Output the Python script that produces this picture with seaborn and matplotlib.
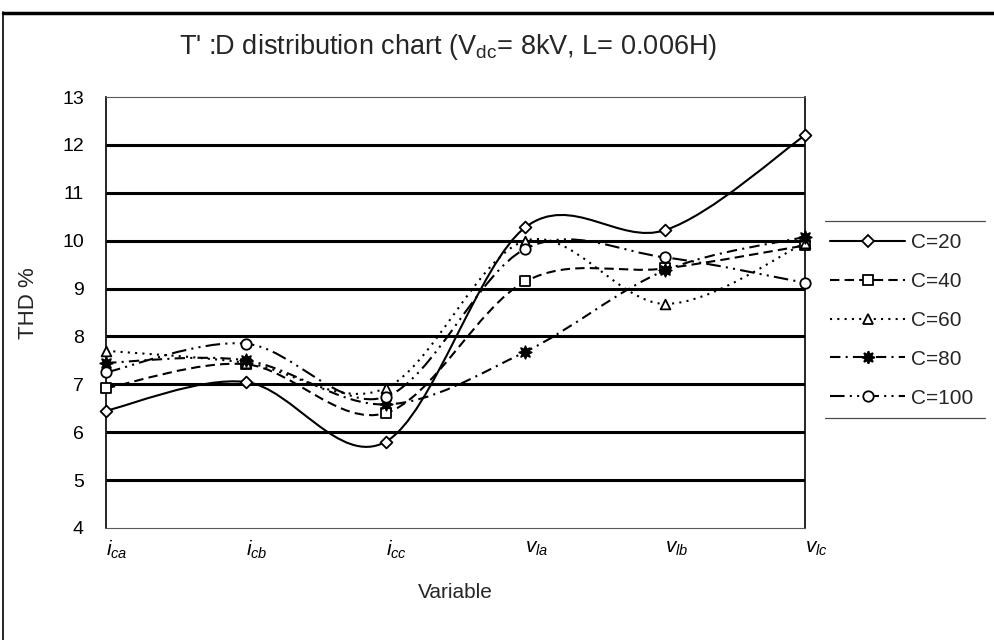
import numpy as np
import matplotlib
matplotlib.use('Agg')
import matplotlib.pyplot as plt
import seaborn as sns
from matplotlib.path import Path
from matplotlib.patches import PathPatch
from matplotlib.lines import Line2D
import matplotlib.transforms as mtransforms

# ---- data ----
categories = [r'$i_{ca}$', r'$i_{cb}$', r'$i_{cc}$', r'$v_{la}$', r'$v_{lb}$', r'$v_{lc}$']
series_names = ['C=20', 'C=40', 'C=60', 'C=80', 'C=100']
c20 = [6.45, 7.05, 5.80, 10.28, 10.22, 12.20]
c40 = [6.92, 7.42, 6.40, 9.15, 9.42, 9.90]
c60 = [7.70, 7.45, 6.92, 10.00, 8.68, 9.95]
c80 = [7.45, 7.50, 6.58, 7.68, 9.38, 10.08]
c100 = [7.25, 7.85, 6.74, 9.83, 9.65, 9.12]
y_ticks = [4, 5, 6, 7, 8, 9, 10, 11, 12, 13]
title = "T' :D distribution chart (V$_{\\mathrm{dc}}$= 8kV, L= 0.006H)"

series_values = [c20, c40, c60, c80, c100]

# ---- style ----
sns.set_theme(style='white')
plt.rcParams['font.family'] = ['Liberation Sans', 'DejaVu Sans']
plt.rcParams['mathtext.fontset'] = 'custom'
plt.rcParams['mathtext.rm'] = 'Liberation Sans'
plt.rcParams['mathtext.it'] = 'Liberation Sans:italic'
plt.rcParams['mathtext.bf'] = 'Liberation Sans:bold'

line_styles = ['-', (0, (4.5, 2.5)), (0, (1, 2.5)), (0, (5, 2.5, 1, 2.5)), (0, (7, 2.5, 1, 2.5, 1, 2.5))]
markers = ['D', 's', '^', (8, 1, 0), 'o']
marker_sizes = [6, 7, 7, 9, 7.5]
faces = ['white', 'white', 'white', 'black', 'white']

W, H = 994, 640
fig = plt.figure(figsize=(W / 100, H / 100), dpi=100)
ax = fig.add_axes([106 / W, 1 - 528 / H, (805 - 106) / W, (528 - 97) / H])

x = np.arange(len(categories))


def smooth_path(xs, ys):
    pts = np.column_stack([xs, ys]).astype(float)
    n = len(pts)
    verts = [pts[0]]
    codes = [Path.MOVETO]
    for i in range(n - 1):
        p0 = pts[i - 1] if i > 0 else pts[i]
        p1 = pts[i]
        p2 = pts[i + 1]
        p3 = pts[i + 2] if i + 2 < n else pts[i + 1]
        c1 = p1 + (p2 - p0) / 6.0
        c2 = p2 - (p3 - p1) / 6.0
        verts += [c1, c2, p2]
        codes += [Path.CURVE4] * 3
    return Path(verts, codes)


for vals, ls in zip(series_values, line_styles):
    patch = PathPatch(smooth_path(x, vals), facecolor='none', edgecolor='black',
                      lw=1.5, linestyle=ls, zorder=3)
    ax.add_patch(patch)

for vals, m, ms, fc in zip(series_values, markers, marker_sizes, faces):
    sns.scatterplot(x=x, y=vals, marker=m, s=ms ** 2, color=fc, edgecolor='black',
                    linewidth=1.3, zorder=5, ax=ax, legend=False, clip_on=False)

# gridlines
ax.hlines(y_ticks[1:-1], x[0], x[-1], color='black', lw=2.2, zorder=1)

ax.set_xlim(x[0], x[-1])
ax.set_ylim(y_ticks[0], y_ticks[-1])
ax.set_yticks(y_ticks)
ax.set_yticklabels([str(v) for v in y_ticks], fontsize=14)
ax.set_xticks(x)
ax.set_xticklabels(categories, fontsize=15, ha='left')
offset = mtransforms.ScaledTranslation(-5 / 100, 0, fig.dpi_scale_trans)
for lab in ax.get_xticklabels():
    lab.set_transform(lab.get_transform() + offset)
ax.tick_params(axis='y', direction='out', length=4, width=1, pad=12, colors='black')
ax.tick_params(axis='x', length=0, pad=8, colors='black')
ax.set_xlabel('')
ax.set_ylabel('')
for side in ['left', 'right']:
    ax.spines[side].set_color('black')
    ax.spines[side].set_linewidth(1.2)
for side in ['top', 'bottom']:
    ax.spines[side].set_color('0.35')
    ax.spines[side].set_linewidth(0.8)

fig.text(448 / W, 1 - 47 / H, title, ha='center', va='center', fontsize=19.5)
fig.text(28 / W, 1 - 303 / H, 'THD %', rotation=90, ha='center', va='center', fontsize=16)
fig.text(455 / W, 1 - 593 / H, 'Variable', ha='center', va='center', fontsize=15)

# legend
handles = [Line2D([], [], color='black', lw=1.5, linestyle=ls, marker=m, markersize=ms,
                  markerfacecolor=fc, markeredgecolor='black', markeredgewidth=1.3)
           for ls, m, ms, fc in zip(line_styles, markers, marker_sizes, faces)]
fig.legend(handles, series_names, loc='upper left', bbox_to_anchor=(822 / W, 1 - 225 / H),
           frameon=False, fontsize=15, handlelength=3.6, handletextpad=0.25,
           labelspacing=0.95, borderaxespad=0)
fig.add_artist(Line2D([825 / W, 985 / W], [1 - 221 / H] * 2, color='0.3', lw=0.9))
fig.add_artist(Line2D([825 / W, 985 / W], [1 - 418 / H] * 2, color='0.3', lw=0.9))

# outer frame (top and left)
fig.add_artist(Line2D([3 / W, 1.0], [1 - 13 / H] * 2, color='black', lw=2.5))
fig.add_artist(Line2D([3 / W] * 2, [1 - 12 / H, 0.0], color='black', lw=1.2))

fig.savefig('out.png', dpi=100, facecolor='white')
